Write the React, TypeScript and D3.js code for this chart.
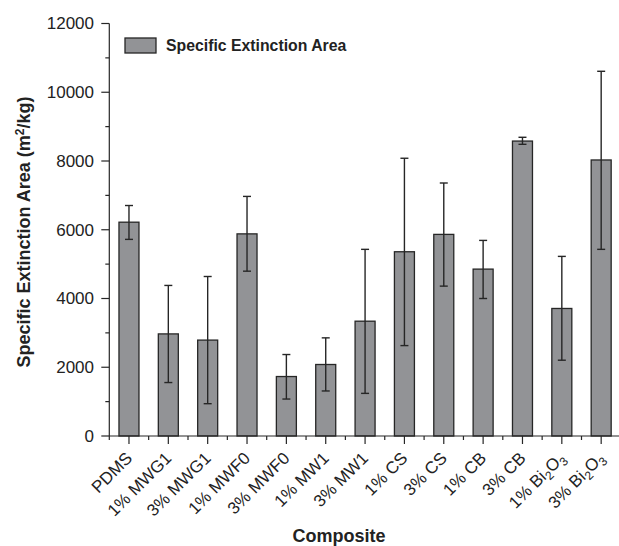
import React from "react";
import * as d3 from "d3";

const categories = [
  "PDMS", "1% MWG1", "3% MWG1", "1% MWF0", "3% MWF0", "1% MW1", "3% MW1",
  "1% CS", "3% CS", "1% CB", "3% CB", "1% Bi2O3", "3% Bi2O3",
];
const values = [6220, 2970, 2790, 5880, 1730, 2080, 3340, 5360, 5865, 4855, 8580, 3710, 8030];
const errLow = [5720, 1555, 940, 4795, 1075, 1310, 1240, 2630, 4360, 4000, 8485, 2205, 5430];
const errHigh = [6705, 4380, 4640, 6970, 2370, 2855, 5430, 8080, 7360, 5690, 8690, 5225, 10610];
const yTicks = [0, 2000, 4000, 6000, 8000, 10000, 12000];
const yMinorTicks = [1000, 3000, 5000, 7000, 9000, 11000];

const W = 619;
const H = 546;
const FONT = "'Liberation Sans', Arial, Helvetica, sans-serif";
const FILL = "#929396";
const STROKE = "#262626";

function Label({ text }: { text: string }) {
  const m = text.match(/^(.*)Bi2O3$/);
  if (m) {
    return (
      <>
        {m[1]}Bi
        <tspan dy={4} fontSize={12}>2</tspan>
        <tspan dy={-4}>O</tspan>
        <tspan dy={4} fontSize={12}>3</tspan>
      </>
    );
  }
  return <>{text}</>;
}

export default function App() {
  const x0 = 109.3;
  const step = 39.35;
  const x = d3
    .scaleBand<string>()
    .domain(categories)
    .range([x0, x0 + step * categories.length])
    .paddingInner(0)
    .paddingOuter(0);
  const y = d3.scaleLinear().domain([0, 12000]).range([436, 23.5]);
  const barW = 20;
  const capW = 8;
  const center = (c: string) => (x(c) as number) + x.bandwidth() / 2;

  return (
    <svg
      width={W}
      height={H}
      style={{ position: "absolute", left: 0, top: 0, background: "#fff" }}
      fontFamily={FONT}
    >
      {/* bars */}
      {categories.map((c, i) => (
        <rect
          key={"b" + c}
          x={center(c) - barW / 2}
          y={y(values[i])}
          width={barW}
          height={y(0) - y(values[i])}
          fill={FILL}
          stroke={STROKE}
          strokeWidth={1.3}
        />
      ))}
      {/* error bars */}
      {categories.map((c, i) => {
        const cx = center(c);
        return (
          <g key={"e" + c} stroke={STROKE} strokeWidth={1.4}>
            <line x1={cx} x2={cx} y1={y(errLow[i])} y2={y(errHigh[i])} />
            <line x1={cx - capW / 2} x2={cx + capW / 2} y1={y(errLow[i])} y2={y(errLow[i])} />
            <line x1={cx - capW / 2} x2={cx + capW / 2} y1={y(errHigh[i])} y2={y(errHigh[i])} />
          </g>
        );
      })}
      {/* y axis */}
      <g stroke={STROKE} strokeWidth={1.2}>
        <line x1={x0} x2={x0} y1={y(12000)} y2={y(0)} />
        {yTicks.map((t) => (
          <line key={"yt" + t} x1={x0 - 8} x2={x0} y1={y(t)} y2={y(t)} />
        ))}
        {yMinorTicks.map((t) => (
          <line key={"ym" + t} x1={x0 - 4} x2={x0} y1={y(t)} y2={y(t)} />
        ))}
      </g>
      {yTicks.map((t) => (
        <text
          key={"yl" + t}
          x={94}
          y={y(t)}
          dy="0.35em"
          textAnchor="end"
          fontSize={17}
          fill="#222"
        >
          {t}
        </text>
      ))}
      {/* x axis */}
      <g stroke={STROKE} strokeWidth={1.2}>
        <line x1={x0} x2={W} y1={y(0)} y2={y(0)} />
        {categories.map((c) => (
          <line key={"xt" + c} x1={center(c)} x2={center(c)} y1={y(0)} y2={y(0) + 8} />
        ))}
        {categories.map((c) => (
          <line key={"xm" + c} x1={x(c) as number} x2={x(c) as number} y1={y(0)} y2={y(0) + 4} />
        ))}
      </g>
      {categories.map((c) => (
        <text
          key={"xl" + c}
          transform={`translate(${center(c)},${y(0) + 19}) rotate(-45)`}
          dy="0.35em"
          textAnchor="end"
          fontSize={17}
          fill="#222"
        >
          <Label text={c} />
        </text>
      ))}
      {/* axis titles */}
      <text
        transform="translate(30,232) rotate(-90)"
        textAnchor="middle"
        fontSize={18}
        fontWeight="bold"
        fill="#222"
      >
        Specific Extinction Area (m<tspan dy={-6} fontSize={12}>2</tspan>
        <tspan dy={6}>/kg)</tspan>
      </text>
      <text x={339} y={542} textAnchor="middle" fontSize={18} fontWeight="bold" fill="#222">
        Composite
      </text>
      {/* legend */}
      <rect x={125} y={38} width={31} height={15} fill={FILL} stroke={STROKE} strokeWidth={1.3} />
      <text x={166} y={45.5} dy="0.35em" fontSize={15.8} fontWeight="bold" fill="#222">
        Specific Extinction Area
      </text>
    </svg>
  );
}
